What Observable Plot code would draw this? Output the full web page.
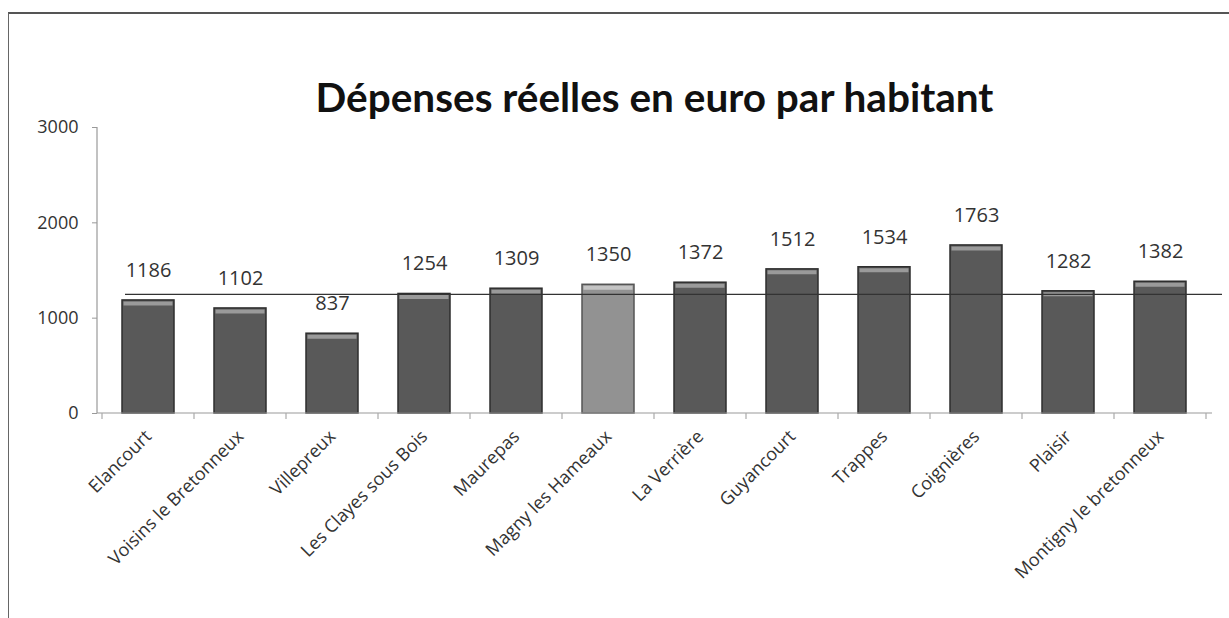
<!DOCTYPE html>
<html>
<head>
<meta charset="utf-8">
<script src="https://cdn.jsdelivr.net/npm/d3@7"></script>
<script src="https://cdn.jsdelivr.net/npm/@observablehq/plot@0.6"></script>
<style>
  html, body { margin: 0; padding: 0; background: #fff; width: 1229px; height: 618px; overflow: hidden; }
  #frame { position: absolute; left: 8px; top: 12px; width: 1225px; height: 610px; border-top: 2px solid #555; border-left: 1.5px solid #666; }
  #title { position: absolute; left: 40px; top: 72px; width: 1229px; text-align: center; font-family: Lato, "Open Sans", sans-serif; font-weight: bold; font-size: 40.5px; line-height: 50px; color: #111; }
  #chart { position: absolute; left: 0; top: 115px; }
</style>
</head>
<body>
<div id="frame"></div>
<div id="title">Dépenses réelles en euro par habitant</div>
<div id="chart"></div>
<script>
const communes = ["Elancourt", "Voisins le Bretonneux", "Villepreux", "Les Clayes sous Bois", "Maurepas", "Magny les Hameaux", "La Verrière", "Guyancourt", "Trappes", "Coignières", "Plaisir", "Montigny le bretonneux"];
const depenses = [1186, 1102, 837, 1254, 1309, 1350, 1372, 1512, 1534, 1763, 1282, 1382];
const highlighted = ["Magny les Hameaux"];
const moyenne = [1250];
const yTicks = [0, 1000, 2000, 3000];

const data = communes.map((c, i) => ({commune: c, value: depenses[i]}));

// axis lines + boundary ticks, drawn from the library's scales
function axisLines(index, scales, values, dims) {
  const ns = "http://www.w3.org/2000/svg";
  const g = document.createElementNS(ns, "g");
  const x = scales.x;
  const bw = typeof x.bandwidth === "function" ? x.bandwidth() : 0;
  const y0 = dims.height - dims.marginBottom;
  const add = (x1, y1, x2, y2, stroke) => {
    const l = document.createElementNS(ns, "line");
    l.setAttribute("x1", x1); l.setAttribute("y1", y1);
    l.setAttribute("x2", x2); l.setAttribute("y2", y2);
    l.setAttribute("stroke", stroke); l.setAttribute("stroke-width", 1.2);
    g.appendChild(l);
  };
  add(dims.marginLeft, dims.marginTop, dims.marginLeft, y0, "#999");
  add(dims.marginLeft, y0, dims.width - dims.marginRight, y0, "#999");
  const centers = communes.map(c => x(c) + bw / 2);
  const step = centers[1] - centers[0];
  for (let i = 0; i <= communes.length; i++) {
    const bx = (i < communes.length ? centers[i] : centers[i - 1] + step) - step / 2;
    add(bx, y0, bx, y0 + 6, "#aaa");
  }
  return g;
}

const chart = Plot.plot({
  width: 1229,
  height: 503,
  marginLeft: 97,
  marginRight: 17,
  marginTop: 12,
  marginBottom: 205,
  style: { fontFamily: "'Open Sans', sans-serif", color: "#333", background: "transparent" },
  x: { domain: communes, paddingInner: 0.43, paddingOuter: 0.215, label: null },
  y: { domain: [0, 3000], label: null },
  marks: [
    Plot.barY(data, {
      x: "commune", y: "value",
      fill: d => highlighted.includes(d.commune) ? "#929292" : "#595959",
      stroke: d => highlighted.includes(d.commune) ? "#555" : "#2e2e2e",
      strokeWidth: 1.5
    }),
    Plot.tickY(data, {
      x: "commune", y: "value",
      stroke: d => highlighted.includes(d.commune) ? "#c4c4c4" : "#9a9a9a",
      strokeWidth: 4, dy: 3, insetLeft: 1.5, insetRight: 1.5
    }),
    Plot.ruleY(moyenne, { stroke: "#333", strokeWidth: 1.3, insetLeft: 28, insetRight: -10 }),
    axisLines,
    Plot.axisY({ ticks: yTicks, tickFormat: d => String(d), tickSize: 5, tickPadding: 14, fontSize: 18, stroke: "#999", fill: "#333", label: null }),
    Plot.axisX({ tickSize: 0, tickPadding: 20, tickRotate: -45, fontSize: 18, fill: "#333", label: null }),
    Plot.text(data, { x: "commune", y: "value", text: d => String(d.value), dy: -30, fontSize: 20, fill: "#333" })
  ]
});
document.getElementById("chart").appendChild(chart);
</script>
</body>
</html>
